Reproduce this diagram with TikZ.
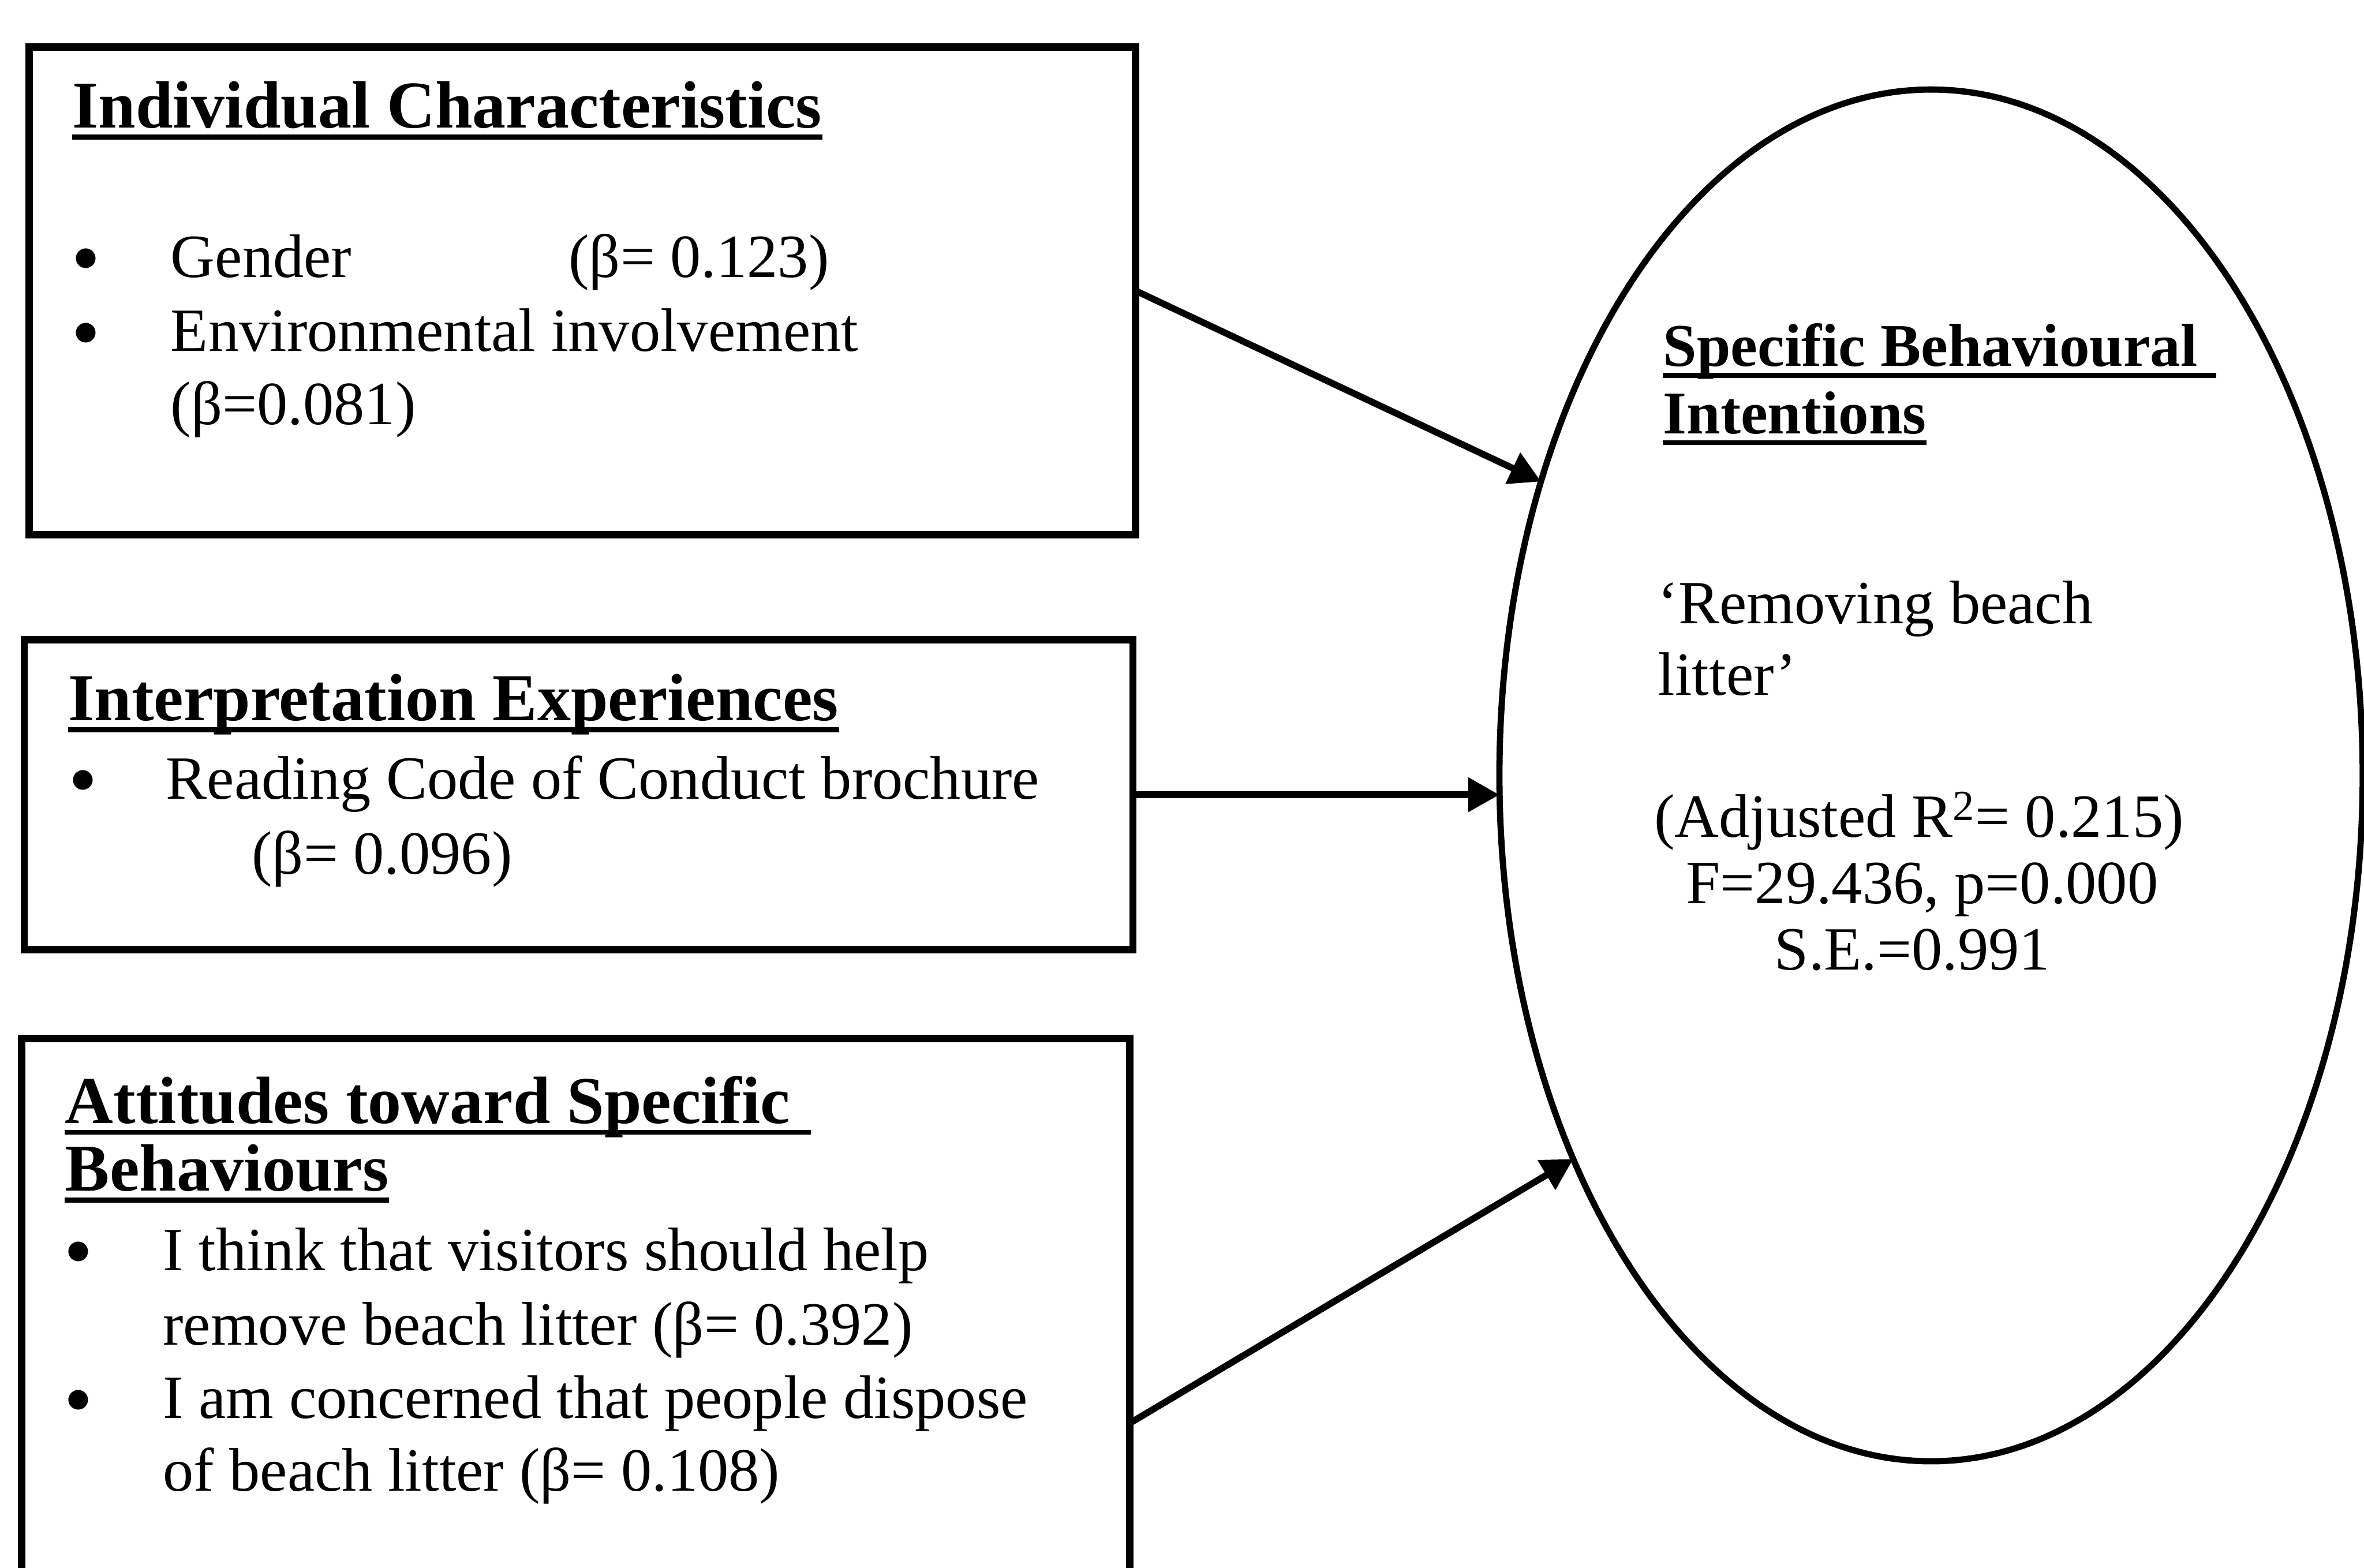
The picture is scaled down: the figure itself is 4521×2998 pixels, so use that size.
\documentclass[tikz,border=0pt]{standalone}
\usepackage{fontspec}
\setmainfont{Liberation Serif}
\newfontfamily\dotfamily{DejaVu Sans}
\usetikzlibrary{shapes.geometric,arrows.meta}

\newcommand\bodyfont{\fontsize{33.4}{40}\selectfont}
\newcommand\headfont{\fontsize{36.4}{44}\selectfont\bfseries}
\newcommand\ellheadfont{\fontsize{33}{40}\selectfont\bfseries}
\newcommand\bulletfont{\dotfamily\fontsize{14}{16}\selectfont}

\tikzset{
  box/.style={draw, rectangle, line width=4pt, inner sep=0pt, outer sep=0pt},
  oval/.style={draw, ellipse, line width=3.4pt, inner sep=0pt, outer sep=0pt,
               minimum width=16.5cm, minimum height=26.22cm},
  body/.style={anchor=base west, inner sep=0pt, font=\bodyfont},
  bodyc/.style={anchor=base, inner sep=0pt, font=\bodyfont},
  head/.style={anchor=base west, inner sep=0pt, font=\headfont},
  ellhead/.style={anchor=base west, inner sep=0pt, font=\ellheadfont},
  dot/.style={anchor=base, inner sep=0pt, font=\bulletfont, yshift=6.5pt},
  uline/.style={line width=2.8pt},
  link/.style={line width=3.6pt, -{Triangle[length=17pt,width=18pt]}}
}

\begin{document}
\begin{tikzpicture}[x=0.01cm, y=-0.01cm]
  \useasboundingbox (0,0) rectangle (4521,2998);
  \clip (0,0) rectangle (4521,2998);

  % three predictor boxes
  \node[box, minimum width=21.15cm, minimum height=9.32cm]  (box1) at (1113.5,556) {};
  \node[box, minimum width=21.19cm, minimum height=5.92cm]  (box2) at (1106.5,1520) {};
  \node[box, minimum width=21.18cm, minimum height=14.70cm] (box3) at (1101,2722) {};

  % outcome ellipse
  \node[oval] (ell) at (3693,1483) {};

  % box 1: individual characteristics
  \node[head] (h1) at (138,245) {Individual Characteristics};
  \draw[uline] ([yshift=-5pt]h1.base west) -- ([yshift=-5pt]h1.base east);
  \node[dot]  (b1a) at (164,530) {●};
  \node[body] (t1a) at (326,530) {Gender};
  \node[body] (t1b) at (1087,530) {(β= 0.123)};
  \node[dot]  (b1b) at (164,672) {●};
  \node[body] (t1c) at (326,672) {Environmental involvement};
  \node[body] (t1d) at (326,812) {(β=0.081)};

  % box 2: interpretation experiences
  \node[head] (h2) at (130,1378) {Interpretation Experiences};
  \draw[uline] ([yshift=-5pt]h2.base west) -- ([yshift=-5pt]h2.base east);
  \node[dot]  (b2a) at (159,1528) {●};
  \node[body] (t2a) at (317,1528) {Reading Code of Conduct brochure};
  \node[body] (t2b) at (481,1672) {(β= 0.096)};

  % box 3: attitudes
  \node[head] (h3a) at (124,2148) {Attitudes toward Specific\kern0.3em};
  \draw[uline] ([yshift=-5pt]h3a.base west) -- ([yshift=-5pt]h3a.base east);
  \node[head] (h3b) at (124,2278) {Behaviours};
  \draw[uline] ([yshift=-5pt]h3b.base west) -- ([yshift=-5pt]h3b.base east);
  \node[dot]  (b3a) at (150,2430) {●};
  \node[body] (t3a) at (311,2430) {I think that visitors should help};
  \node[body] (t3b) at (311,2572) {remove beach litter (β= 0.392)};
  \node[dot]  (b3b) at (150,2713) {●};
  \node[body] (t3c) at (311,2713) {I am concerned that people dispose};
  \node[body] (t3d) at (311,2851) {of beach litter (β= 0.108)};

  % ellipse text
  \node[ellhead] (e1) at (3180,700) {Specific Behavioural\kern0.3em};
  \draw[uline] ([yshift=-5pt]e1.base west) -- ([yshift=-5pt]e1.base east);
  \node[ellhead] (e2) at (3180,829) {Intentions};
  \draw[uline] ([yshift=-5pt]e2.base west) -- ([yshift=-5pt]e2.base east);
  \node[body]  (e3) at (3170,1193) {‘Removing beach};
  \node[body]  (e4) at (3170,1329) {litter’};
  \node[bodyc] (e5) at (3670,1601) {(Adjusted R\textsuperscript{2}= 0.215)};
  \node[bodyc] (e6) at (3676,1728) {F=29.436, p=0.000};
  \node[bodyc] (e7) at (3657,1855) {S.E.=0.991};

  % effects on the outcome
  \draw[link] (box1.east) -- (ell.143);
  \draw[link] (box2.east) -- (box2.east -| ell.west);
  \draw[link] (box3.east) -- (ell.227);
\end{tikzpicture}
\end{document}
